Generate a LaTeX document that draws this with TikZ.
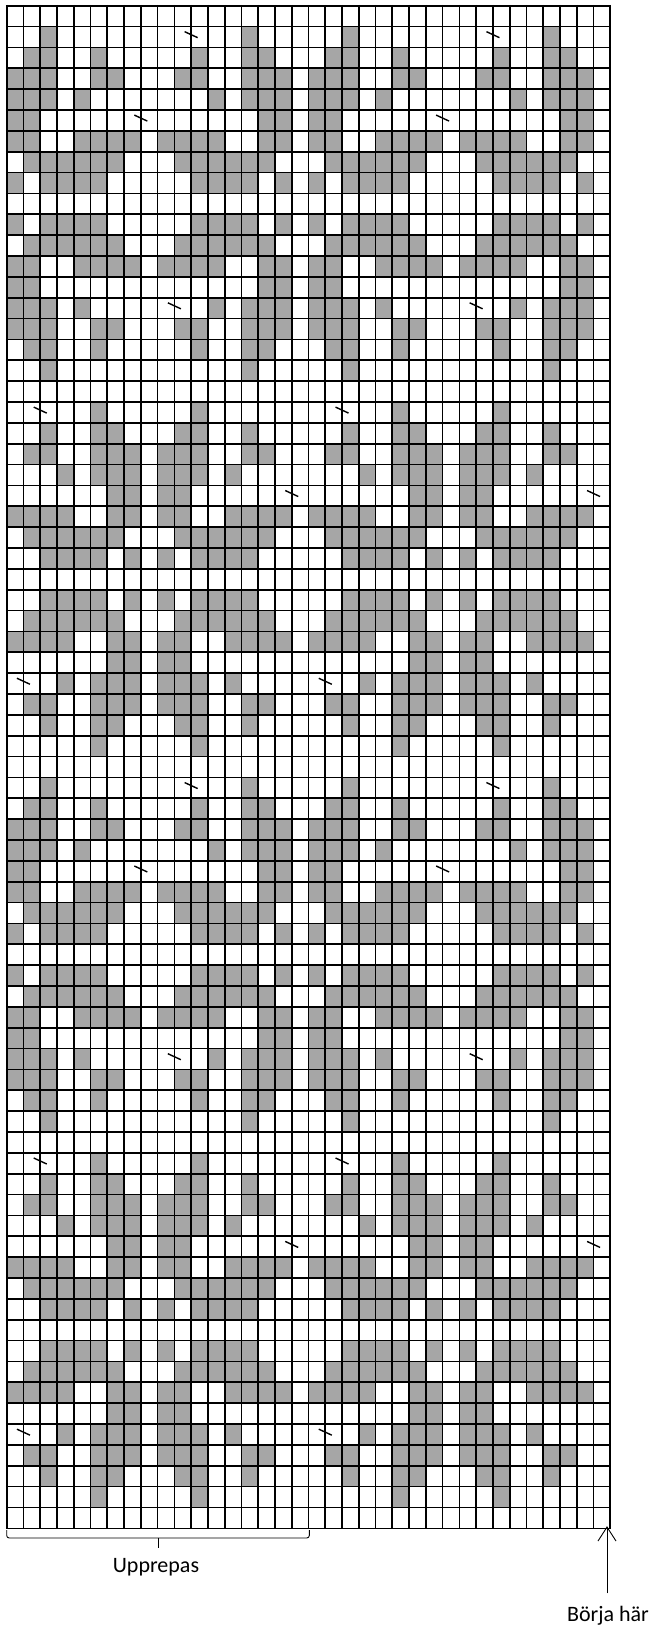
\documentclass[tikz,border=0pt]{standalone}
\usepackage{fontspec}
\setmainfont{Carlito}
\usetikzlibrary{calc}
\definecolor{cellgray}{RGB}{166,166,166}
\newcommand\gx{6.7}
\newcommand\gy{5.7}
\newcommand\cw{16.767}
\newcommand\ch{20.858}
\newcommand\krow[2]{%
  \foreach \c in {#2}{%
    \foreach \dr in {0,36}{%
      \foreach \dc in {0,18}{%
        \fill[cellgray] ({\gx+(\c+\dc)*\cw},{\gy+(#1+\dr)*\ch}) rectangle ++(\cw,\ch);
      }}}}
\newcommand\kslash[2]{%
  \foreach \dr in {0,36}{%
    \foreach \dc in {0,18}{%
      \draw[slashline] ({\gx+(#2+\dc)*\cw-6.5},{\gy+(#1+\dr)*\ch+5.1}) -- ++(13,6);
    }}}
\tikzset{
  gridline/.style={line width=1.7pt, black},
  slashline/.style={line width=1.4pt, black},
  thinline/.style={line width=0.9pt, black},
  label/.style={font=\fontsize{22}{26}\selectfont, inner sep=0pt}
}
\begin{document}
\begin{tikzpicture}[x=1pt,y=-1pt]
\useasboundingbox (0,0) rectangle (651,1625);
\fill[white] (0,0) rectangle (651,1625);
% pattern rows (one 18 x 36 unit, repeated twice each way)
\krow{1}{2,14}
\krow{2}{1,2,5,11,14,15}
\krow{3}{0,1,2,5,6,10,11,14,15,16}
\krow{4}{0,1,2,4,12,14,15,16}
\krow{5}{0,1,15,16}
\krow{6}{0,1,4,5,6,7,9,10,11,12,15,16}
\krow{7}{1,2,3,4,5,6,10,11,12,13,14,15}
\krow{8}{0,2,3,4,5,11,12,13,14,16}
\krow{10}{0,2,3,4,5,11,12,13,14,16}
\krow{11}{1,2,3,4,5,6,10,11,12,13,14,15}
\krow{12}{0,1,4,5,6,7,9,10,11,12,15,16}
\krow{13}{0,1,15,16}
\krow{14}{0,1,2,4,12,14,15,16}
\krow{15}{0,1,2,5,6,10,11,14,15,16}
\krow{16}{1,2,5,11,14,15}
\krow{17}{2,14}
\krow{19}{5,11}
\krow{20}{2,5,6,10,11,14}
\krow{21}{1,2,5,6,7,9,10,11,14,15}
\krow{22}{3,5,6,7,9,10,11,13}
\krow{23}{6,7,9,10}
\krow{24}{0,1,2,3,6,7,9,10,13,14,15,16}
\krow{25}{1,2,3,4,5,6,10,11,12,13,14,15}
\krow{26}{2,3,4,5,7,9,11,12,13,14}
\krow{28}{2,3,4,5,7,9,11,12,13,14}
\krow{29}{1,2,3,4,5,6,10,11,12,13,14,15}
\krow{30}{0,1,2,3,6,7,9,10,13,14,15,16}
\krow{31}{6,7,9,10}
\krow{32}{3,5,6,7,9,10,11,13}
\krow{33}{1,2,5,6,7,9,10,11,14,15}
\krow{34}{2,5,6,10,11,14}
\krow{35}{5,11}
% grid
\foreach \i in {0,...,36}{
  \draw[gridline] ({\gx+\i*\cw},{\gy-0.85}) -- ({\gx+\i*\cw},{\gy+73*\ch+0.85});
}
\foreach \j in {0,...,73}{
  \draw[gridline] ({\gx-0.85},{\gy+\j*\ch}) -- ({\gx+36*\cw+0.85},{\gy+\j*\ch});
}
% slash marks
\kslash{1}{11}
\kslash{5}{8}
\kslash{14}{10}
\kslash{19}{2}
\kslash{23}{17}
\kslash{32}{1}
% repeat bracket
\coordinate (bl) at (6.7,1530);
\coordinate (br) at (309.3,1530);
\coordinate (bm) at (158,1538);
\draw[thinline, rounded corners=2.5pt] (bl) -- ++(0,8) -- ($(br)+(0,8)$) -- (br);
\draw[thinline] (bm) -- ++(0,10);
\node[label, anchor=base] (rep) at (156,1572.5) {Upprepas};
% start arrow
\coordinate (tip) at (607,1527);
\coordinate (tail) at (607,1593.3);
\draw[thinline] (tail) -- (tip);
\draw[thinline] ($(tip)+(-9,14)$) -- (tip) -- ($(tip)+(9,14)$);
\node[label, anchor=base] (start) at (608,1621.5) {Börja här};
\end{tikzpicture}
\end{document}
